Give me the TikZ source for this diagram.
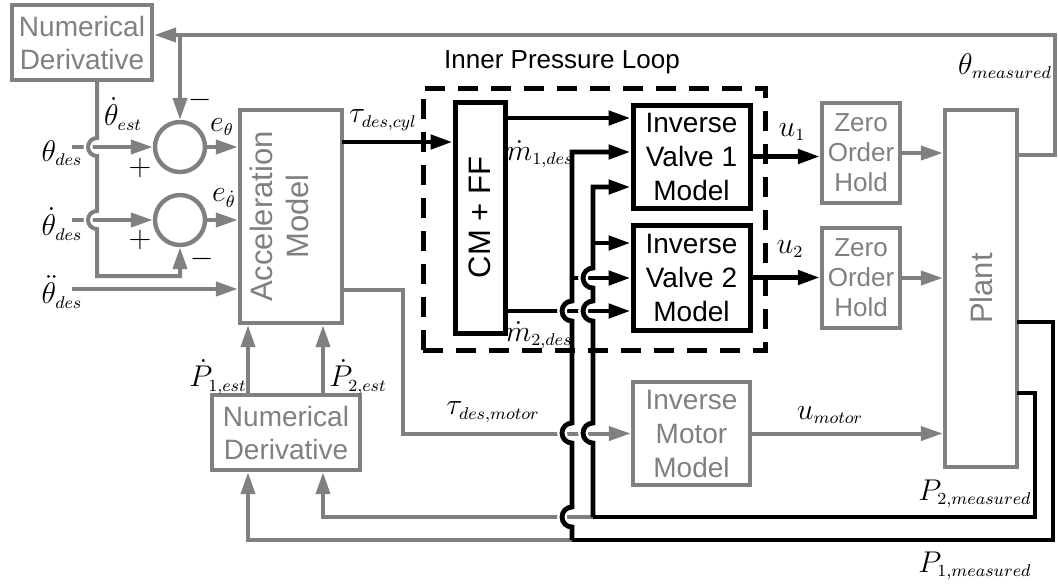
\RequirePackage{fix-cm}
\documentclass[tikz,border=0pt]{standalone}
\usepackage{amsmath}
\usepackage{fontspec}
\setsansfont{Liberation Sans}
\usetikzlibrary{arrows.meta}
\DeclareMathSizes{15}{15}{8.5}{6}

\definecolor{sigGray}{RGB}{128,128,128}

\begin{document}
\begin{tikzpicture}[x=0.5pt, y=-0.5pt, >={Triangle[length=11pt,width=7pt]},
	gbox/.style={draw=sigGray, line width=2.2pt, fill=white, inner sep=0pt, text=sigGray, align=center, font=\sffamily\fontsize{14}{17}\selectfont},
	bbox/.style={draw=black, line width=2.5pt, fill=white, inner sep=0pt, align=center, font=\sffamily\fontsize{14}{17}\selectfont},
	gtext/.style={text=sigGray, align=center, inner sep=0pt, font=\sffamily\fontsize{15.5}{18}\selectfont},
	btext/.style={text=black, align=center, inner sep=0pt, font=\sffamily\fontsize{15.5}{18}\selectfont},
	gline/.style={draw=sigGray, line width=2pt},
	bline/.style={draw=black, line width=2.4pt},
	hopgap/.style={draw=white, line width=4.8pt},
	sig/.style={inner sep=0pt, font=\fontsize{15}{17}\selectfont}]
	\useasboundingbox (0,0) rectangle (1058,586);

	% blocks of the outer loop
	\node[gbox, minimum width=70pt, minimum height=37.5pt, font=\sffamily\fontsize{14}{16.5}\selectfont] (ndTop) at (82,42.5) {Numerical\\Derivative};
	\node[gbox, circle, minimum size=25pt] (sumA) at (180,147) {};
	\node[gbox, circle, minimum size=25pt] (sumB) at (180,220) {};
	\node[gbox, minimum width=51pt, minimum height=106.5pt] (accel) at (291,216.5) {};
	\node[gtext, rotate=90] (accelTxt) at (279.5,216.5) {Acceleration\\Model};
	\node[gbox, minimum width=74pt, minimum height=37.5pt, font=\sffamily\fontsize{14}{16.5}\selectfont] (ndBot) at (286,432.5) {Numerical\\Derivative};
	\node[gbox, minimum width=58.5pt, minimum height=51.5pt] (motor) at (691.5,433.5) {Inverse\\Motor\\Model};
	\node[gbox, minimum width=39pt, minimum height=50pt, font=\sffamily\fontsize{13}{15}\selectfont] (zohA) at (861,153) {Zero\\Order\\Hold};
	\node[gbox, minimum width=39pt, minimum height=50pt, font=\sffamily\fontsize{13}{15}\selectfont] (zohB) at (861,278) {Zero\\Order\\Hold};
	\node[gbox, minimum width=36pt, minimum height=178.5pt] (plant) at (981,288.5) {};
	\node[gtext, rotate=90] (plantTxt) at (plant) {Plant};

	% inner pressure loop
	\node[draw, dash pattern=on 10pt off 6.5pt, line width=2.5pt, minimum width=171pt, minimum height=131pt, inner sep=0pt] (loop) at (594,219) {};
	\node[inner sep=0pt, font=\sffamily\fontsize{13}{15}\selectfont] (loopTxt) at (562,62) {Inner Pressure Loop};
	\node[bbox, minimum width=25pt, minimum height=115.5pt] (cmff) at (480,217.5) {};
	\node[btext, rotate=90] (cmffTxt) at (cmff) {CM + FF};
	\node[bbox, minimum width=58.5pt, minimum height=51.5pt] (ivA) at (691.5,156.5) {Inverse\\Valve 1\\Model};
	\node[bbox, minimum width=58.5pt, minimum height=52.5pt] (ivB) at (691.5,277.5) {Inverse\\Valve 2\\Model};

	% measured angle back to the derivative and the first sum
	\coordinate (thR) at (1055,155);
	\coordinate (thT) at (1055,35);
	\draw[gline, ->] (plant.east |- thR) -- (thR) -- (thT) -- (thT -| ndTop.east);
	\draw[gline, ->] (sumA.north |- thT) -- (sumA.north);

	% desired inputs and errors
	\coordinate (thIn) at (72,147);
	\coordinate (thdIn) at (72,220);
	\coordinate (thddIn) at (72,289);
	\draw[gline, ->] (thIn) -- (sumA.west);
	\draw[gline, ->] (thdIn) -- (sumB.west);
	\draw[gline, ->] (thddIn) -- (thddIn -| accel.west);
	\draw[gline, ->] (sumA.east) -- (sumA.east -| accel.west);
	\draw[gline, ->] (sumB.east) -- (sumB.east -| accel.west);

	% estimated rate, hopping over the inputs
	\coordinate (estLeg) at (97,276);
	\foreach \yy in {147,220}
		\draw[hopgap, line width=4.4pt] (97,{\yy-9}) arc[start angle=-90, end angle=-270, radius=9];
	\draw[gline, ->] (ndTop.south -| estLeg) -- (97,138) arc[start angle=-90, end angle=-270, radius=9]
		-- (97,211) arc[start angle=-90, end angle=-270, radius=9] -- (estLeg) -| (sumB.south);

	% motor torque path
	\coordinate (tmA) at (403,290);
	\draw[gline, ->] (accel.east |- tmA) -- (tmA) |- (motor.west);
	\draw[gline, ->] (motor.east) -- (motor.east -| plant.west);
	\draw[gline, ->] (zohA.east) -- (zohA.east -| plant.west);
	\draw[gline, ->] (zohB.east) -- (zohB.east -| plant.west);

	% pressure rates into the model
	\coordinate (pA) at (248,540);
	\coordinate (pB) at (323,517);
	\coordinate (p1Split) at (572,540);
	\coordinate (p2Split) at (593,517);
	\draw[gline, ->] (ndBot.north -| pA) -- (accel.south -| pA);
	\draw[gline, ->] (ndBot.north -| pB) -- (accel.south -| pB);
	\draw[gline, ->] (p1Split) -- (pA) -- (ndBot.south -| pA);
	\draw[gline, ->] (p2Split) -- (pB) -- (ndBot.south -| pB);

	% valve side
	\coordinate (cylOut) at (342,142);
	\coordinate (m1Out) at (505,118);
	\coordinate (m2Out) at (505,311);
	\draw[bline, ->] (cylOut) -- (cylOut -| cmff.west);
	\draw[bline, ->] (m1Out) -- (m1Out -| ivA.west);
	\draw[bline, ->] (m2Out) -- (m2Out -| ivB.west);
	\draw[bline, ->] (ivA.east) -- (ivA.east -| zohA.west);
	\draw[bline, ->] (ivB.east) -- (ivB.east -| zohB.west);

	% measured pressures
	\coordinate (p1Out) at (1017,322);
	\coordinate (p1Corner) at (1053,540);
	\coordinate (p2Out) at (1017,393);
	\coordinate (p2Corner) at (1035,517);
	\coordinate (p1Top) at (572,152);
	\coordinate (p2Top) at (593,187);
	\coordinate (p1Tap) at (572,278);
	\coordinate (p2Tap) at (593,243);
	\draw[bline] (p1Out) -| (p1Corner) -- (p1Split);
	\draw[bline] (p2Out) -| (p2Corner) -- (p2Split);
	\draw[bline, ->] (p1Tap) -- (p1Tap -| ivB.west);
	\foreach \yy in {311,433,517}
		\draw[hopgap] (572,{\yy-10}) arc[start angle=-90, end angle=-270, radius=10];
	\foreach \yy in {278,311,433}
		\draw[hopgap] (593,{\yy-10}) arc[start angle=-90, end angle=-270, radius=10];
	\draw[bline, ->] (p1Split) -- (572,527) arc[start angle=90, end angle=270, radius=10]
		-- (572,443) arc[start angle=90, end angle=270, radius=10]
		-- (572,321) arc[start angle=90, end angle=270, radius=10] -- (p1Top) -- (p1Top -| ivA.west);
	\draw[bline, ->] (p2Split) -- (593,443) arc[start angle=90, end angle=270, radius=10]
		-- (593,321) arc[start angle=90, end angle=270, radius=10]
		-- (593,288) arc[start angle=90, end angle=270, radius=10] -- (p2Top) -- (p2Top -| ivA.west);
	\draw[bline, ->] (p2Tap) -- (p2Tap -| ivB.west);

	% signal labels
	\node[sig] (thMeasLbl) at (1005,66) {$\theta_{measured}$};
	\node[sig] (thDesLbl) at (62,153) {$\theta_{des}$};
	\node[sig] (thEstLbl) at (123,114) {$\dot{\theta}_{est}$};
	\node[sig] (minA) at (200,100) {$-$};
	\node[sig] (plusA) at (140,168) {$+$};
	\node[sig] (eThLbl) at (222,127) {$e_{\theta}$};
	\node[sig] (thdDesLbl) at (62,224) {$\dot{\theta}_{des}$};
	\node[sig] (eThdLbl) at (224,198) {$e_{\dot{\theta}}$};
	\node[sig] (plusB) at (140,240) {$+$};
	\node[sig] (minB) at (202,259) {$-$};
	\node[sig] (thddDesLbl) at (62,292) {$\ddot{\theta}_{des}$};
	\node[sig] (cylLbl) at (383,120) {$\tau_{des,cyl}$};
	\node[sig] (m1Lbl) at (540,154) {$\dot{m}_{1,des}$};
	\node[sig] (m2Lbl) at (539,335) {$\dot{m}_{2,des}$};
	\node[sig] (u1Lbl) at (792,132) {$u_1$};
	\node[sig] (u2Lbl) at (790,249) {$u_2$};
	\node[sig] (p1EstLbl) at (218,377) {$\dot{P}_{1,est}$};
	\node[sig] (p2EstLbl) at (358,377) {$\dot{P}_{2,est}$};
	\node[sig] (motLbl) at (493,412) {$\tau_{des,motor}$};
	\node[sig] (uMotLbl) at (830,415) {$u_{motor}$};
	\node[sig] (p2MeasLbl) at (975,494) {$P_{2,measured}$};
	\node[sig] (p1MeasLbl) at (975,566) {$P_{1,measured}$};
\end{tikzpicture}
\end{document}
